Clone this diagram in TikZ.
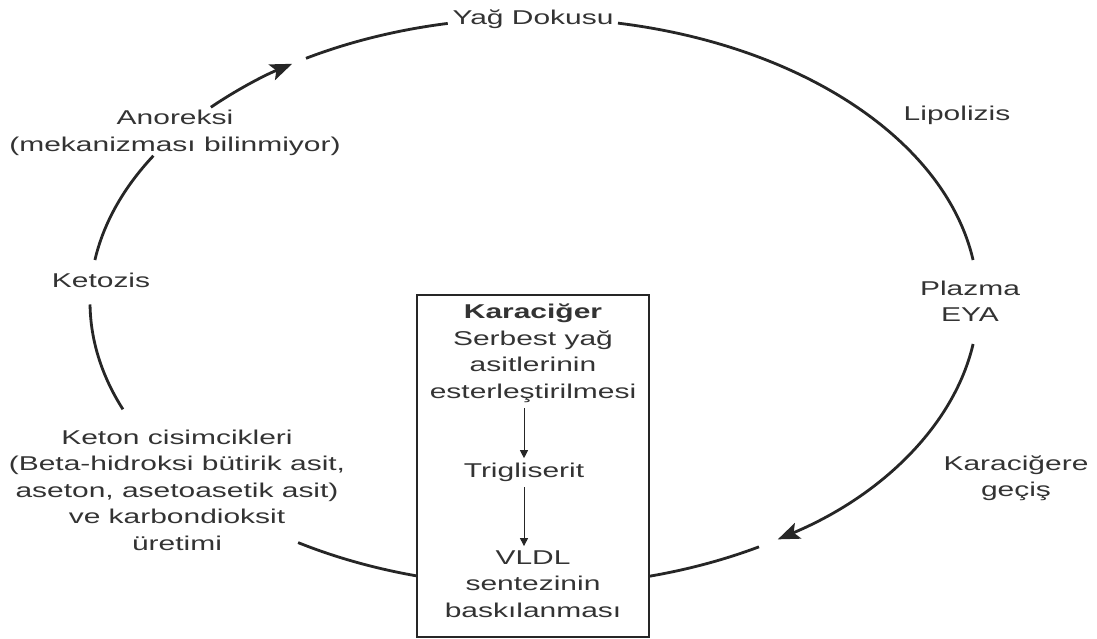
\documentclass[tikz,border=0pt]{standalone}
\usepackage{fontspec}
\setmainfont{Liberation Sans}[FakeStretch=1.5]
\usetikzlibrary{arrows.meta,positioning}

\begin{document}
\begin{tikzpicture}[x=0.025cm,y=-0.025cm,
  font=\fontsize{14.2}{18.8}\selectfont,
  lbl/.style={align=center,inner sep=1pt,text=black!80},
  ell/.style={x radius=444,y radius=284},
  cyc/.style={line width=2pt,draw=black!85},
  cycarrow/.style={cyc,-{Stealth[length=0.55cm,width=0.42cm,inset=0.12cm]}},
  boxarrow/.style={line width=0.7pt,draw=black!85,
    -{Triangle[length=0.2cm,width=0.2cm]},shorten <=3pt,shorten >=2pt}]

  \useasboundingbox (0,0) rectangle (1097,638);

  % labels round the cycle
  \node[lbl] (yag) at (533,19) {Yağ Dokusu};
  \node[lbl] (lipo) at (957,115) {Lipolizis};
  \node[lbl] (plazma) at (970,301) {Plazma\\EYA};
  \node[lbl] (gecis) at (1016,478) {Karaciğere\\geçiş};
  \node[lbl] (keton) at (177,490) {Keton cisimcikleri\\(Beta-hidroksi bütirik asit,\\aseton, asetoasetik asit)\\ve karbondioksit\\üretimi};
  \node[lbl] (ketozis) at (101,280) {Ketozis};
  \node[lbl] (anoreksi) at (175,133) {Anoreksi\\(mekanizması bilinmiyor)};

  % the liver box
  \node[draw=black!85,line width=2pt,minimum width=5.8cm,minimum height=8.55cm] (liver) at (533,466) {};
  \node[lbl,below=0.22cm of liver.north] (serbest) {\textbf{Karaciğer}\\Serbest yağ\\asitlerinin\\esterleştirilmesi};
  \node[lbl] (trig) at (524,472) {Trigliserit};
  \node[lbl] (vldl) at (533,584) {VLDL\\sentezinin\\baskılanması};
  \draw[boxarrow] (serbest.south -| trig) -- (trig);
  \draw[boxarrow] (trig) -- (vldl.north -| trig);

  % the cycle itself, one arc per step
  \coordinate (c) at (534,302);
  \path (c) ++(223.3:444 and 284) coordinate (s1)
        (c) ++(239.1:444 and 284) coordinate (s2)
        (c) ++(280.9:444 and 284) coordinate (s3)
        (c) ++(8.5:444 and 284) coordinate (s4)
        (c) ++(59.55:444 and 284) coordinate (s5)
        (c) ++(105.3:444 and 284) coordinate (s6)
        (c) ++(157.8:444 and 284) coordinate (s7)
        (c) ++(188.5:444 and 284) coordinate (s8);

  \draw[cycarrow] (s1) arc[start angle=223.3,end angle=237,ell];
  \draw[cyc] (s2) arc[start angle=239.1,end angle=258.8,ell];
  \draw[cyc] (s3) arc[start angle=280.9,end angle=351.5,ell];
  \draw[cycarrow] (s4) arc[start angle=8.5,end angle=56.7,ell];
  \draw[cyc] (s5) arc[start angle=59.55,end angle=74.9,ell];
  \draw[cyc] (s6) arc[start angle=105.3,end angle=122.1,ell];
  \draw[cyc] (s7) arc[start angle=157.8,end angle=179.5,ell];
  \draw[cyc] (s8) arc[start angle=188.5,end angle=211,ell];
\end{tikzpicture}
\end{document}
